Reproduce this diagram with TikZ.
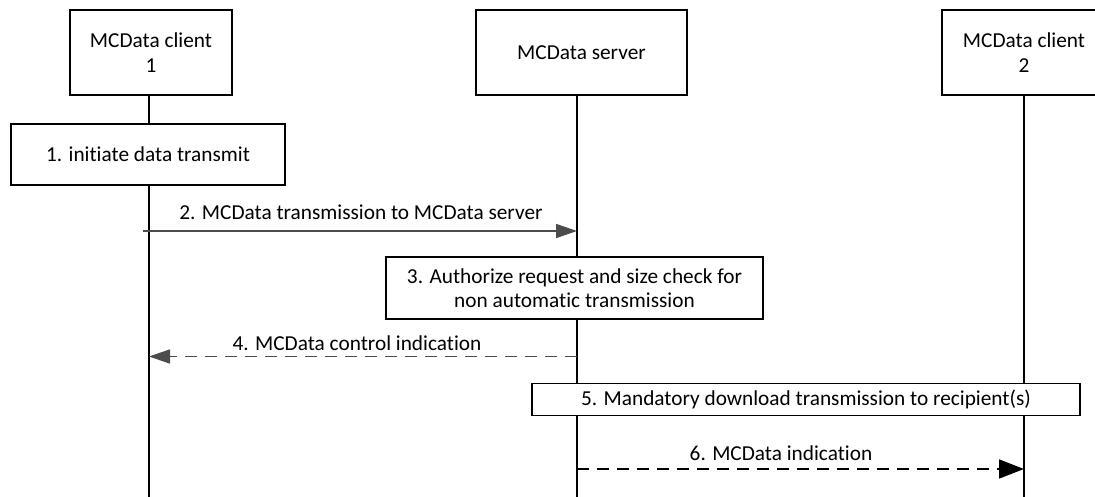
\documentclass[tikz,border=0pt]{standalone}
\usepackage{fontspec}
\setmainfont{Carlito}[Ligatures={NoCommon}]
\usetikzlibrary{arrows.meta}
\begin{document}
\begin{tikzpicture}[x=1pt,y=-1pt,
  txt/.style={font=\fontsize{21.3}{24.5}\selectfont},
  box/.style={txt, draw=black, line width=1.7pt, fill=white, inner sep=0pt, align=center},
  life/.style={line width=1.7pt, draw=black},
  lbl/.style={txt, inner sep=0pt},
  msggrey/.style={line width=1.6pt, draw=black!70},
  msgdash/.style={dash pattern=on 12pt off 8pt},
  headA/.style={-{Triangle[length=21pt,width=14pt]}},
  headB/.style={-{Triangle[length=25pt,width=19pt]}},
]
\useasboundingbox (0,0) rectangle (1095,497);
\clip (0,0) rectangle (1095,497);

% lifeline end points
\coordinate (l1) at (149,497);
\coordinate (ls) at (577,497);
\coordinate (l2) at (1024,497);

% header boxes
\node[box, minimum width=162pt, minimum height=85pt] (c1) at (151,52.5) {MCData client\\1};
\node[box, minimum width=211pt, minimum height=85pt] (srv) at (581.5,52.5) {MCData server};
\node[box, minimum width=164pt, minimum height=85pt] (c2) at (1024,52.5) {MCData client\\2};

% lifelines
\draw[life] (c1.south -| l1) -- (l1);
\draw[life] (srv.south -| ls) -- (ls);
\draw[life] (c2.south -| l2) -- (l2);

% step boxes
\node[box, minimum width=274pt, minimum height=61pt] (s1) at (148,154.5) {1. initiate data transmit};
\node[box, minimum width=377pt, minimum height=62pt] (s3) at (574.5,288) {3. Authorize request and size check for\\non automatic transmission};
\node[box, minimum width=548pt, minimum height=32pt] (s5) at (806,399.5) {5. Mandatory download transmission to recipient(s)};

% message 2
\coordinate (m2s) at (143,231);
\coordinate (m2e) at (577,231);
\draw[msggrey, headA] (m2s) -- (m2e);
\node[lbl] (t2) at (361,212) {2. MCData transmission to MCData server};

% message 4
\coordinate (m4s) at (577,356.5);
\coordinate (m4e) at (149,356.5);
\draw[msggrey, msgdash, headA] (m4s) -- (m4e);
\node[lbl] (t4) at (357,343) {4. MCData control indication};

% message 6
\coordinate (m6s) at (577,469);
\coordinate (m6e) at (1024,469);
\draw[line width=1.7pt, draw=black, msgdash, headB] (m6s) -- (m6e);
\node[lbl] (t6) at (781,453) {6. MCData indication};
\end{tikzpicture}
\end{document}
